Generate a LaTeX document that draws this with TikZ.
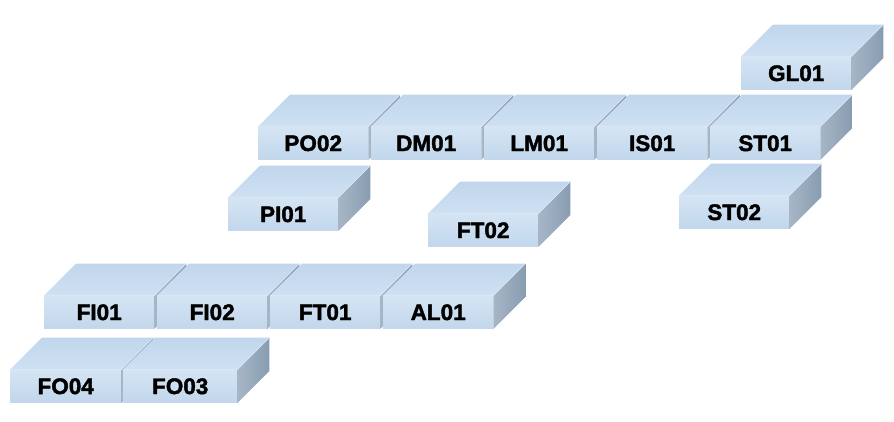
\documentclass[tikz,border=0pt]{standalone}
\usepackage{fontspec}
\setmainfont{Liberation Sans}
\newfontfamily\boxfont[BoldFeatures={FakeBold=1.8}]{Liberation Sans}
\definecolor{frontTop}{RGB}{212,228,243}
\definecolor{frontBot}{RGB}{194,215,236}
\definecolor{topBack}{RGB}{192,214,236}
\definecolor{topFront}{RGB}{207,225,243}
\definecolor{sideTop}{RGB}{136,156,177}
\definecolor{sideBot}{RGB}{166,182,198}
\definecolor{edgeCol}{RGB}{222,234,246}
\tikzset{
  frontbox/.style={anchor=south west, minimum height=33pt, inner sep=0pt,
    top color=frontTop, bottom color=frontBot,
    font=\boxfont\bfseries\fontsize{22.5}{22.5}\selectfont, text={RGB:black,1;white,0}},
  topface/.style={top color=topBack, bottom color=topFront},
  sideface/.style={left color=sideBot, right color=sideTop},
  edgeline/.style={draw=edgeCol, line width=0.6pt}
}
\newcommand{\mycube}[5]{%
  \node[frontbox, minimum width=#5pt] (#1) at (#2,#3) {#4};
  \shade[topface] (#1.north west) -- ([shift={(32pt,32pt)}]#1.north west)
     -- ([shift={(32pt,32pt)}]#1.north east) -- (#1.north east) -- cycle;
  \shade[sideface] (#1.north east) -- ([shift={(32pt,32pt)}]#1.north east)
     -- ([shift={(32pt,32pt)}]#1.south east) -- (#1.south east) -- cycle;
  \draw[edgeline] (#1.north west) -- (#1.north east) -- ([shift={(32pt,32pt)}]#1.north east);
}
\begin{document}
\begin{tikzpicture}[x=1pt,y=-1pt]
\useasboundingbox[fill=white] (0,0) rectangle (894,422);
\mycube{GL01}{741}{90}{GL01}{110}
\mycube{PO02}{258}{160}{PO02}{110}
\mycube{DM01}{371}{160}{DM01}{110}
\mycube{LM01}{484}{160}{LM01}{110}
\mycube{IS01}{597}{160}{IS01}{110}
\mycube{ST01}{710}{160}{ST01}{110}
\mycube{PI01}{228}{231}{PI01}{110}
\mycube{FT02}{428}{247}{FT02}{110}
\mycube{ST02}{679}{229}{ST02}{110}
\mycube{FI01}{44}{329}{FI01}{110}
\mycube{FI02}{157}{329}{FI02}{110}
\mycube{FT01}{270}{329}{FT01}{110}
\mycube{AL01}{383}{329}{AL01}{110}
\mycube{FO04}{10}{403}{FO04}{111}
\mycube{FO03}{123}{403}{FO03}{114}
\end{tikzpicture}
\end{document}
